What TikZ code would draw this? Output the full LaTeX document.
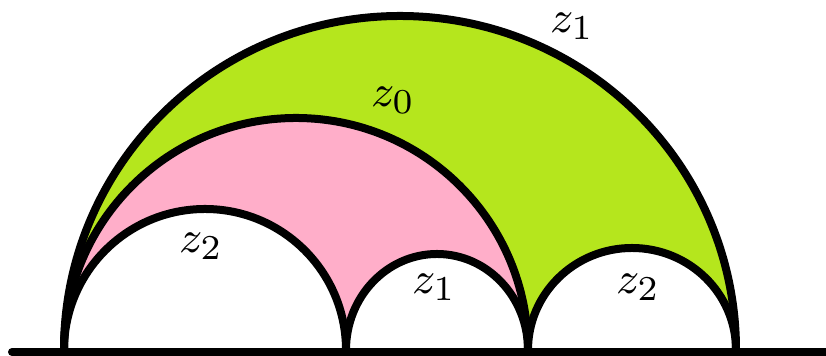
\documentclass[tikz,border=0pt]{standalone}
\definecolor{limegreen}{HTML}{B5E61D}
\definecolor{paintpink}{HTML}{FFAEC9}
\tikzset{
  arcline/.style={line width=1.6pt},
  lbl/.style={font=\fontsize{9.5}{11}\selectfont, inner sep=0pt},
}
\begin{document}
\begin{tikzpicture}[x=0.2pt,y=0.2pt]
\useasboundingbox (0,0) rectangle (826,356);
% fills
\fill[limegreen] (64,6) arc[start angle=180,end angle=0,x radius=336,y radius=334] -- cycle;
\fill[paintpink] (64,6) arc[start angle=180,end angle=0,radius=232] -- cycle;
\fill[white] (64,6) arc[start angle=180,end angle=0,radius=141] -- cycle;
\fill[white] (346,6) arc[start angle=180,end angle=0,x radius=91,y radius=96] -- cycle;
\fill[white] (528,6) arc[start angle=180,end angle=0,x radius=104,y radius=102] -- cycle;
% arcs
\draw[arcline] (64,6) arc[start angle=180,end angle=0,x radius=336,y radius=334];
\draw[arcline] (64,6) arc[start angle=180,end angle=0,radius=232];
\draw[arcline] (64,6) arc[start angle=180,end angle=0,radius=141];
\draw[arcline] (346,6) arc[start angle=180,end angle=0,x radius=91,y radius=96];
\draw[arcline] (528,6) arc[start angle=180,end angle=0,x radius=104,y radius=102];
% baseline
\coordinate (bl) at (12,4);
\coordinate (br) at (830,4);
\draw[line width=1.6pt, line cap=round] (bl) -- (br);
% labels
\node[lbl] (la) at (572,330) {$z_1$};
\node[lbl] (lb) at (393,256) {$z_0$};
\node[lbl] (lc) at (201,110) {$z_2$};
\node[lbl] (ld) at (434,69) {$z_1$};
\node[lbl] (le) at (638,69) {$z_2$};
\end{tikzpicture}
\end{document}
